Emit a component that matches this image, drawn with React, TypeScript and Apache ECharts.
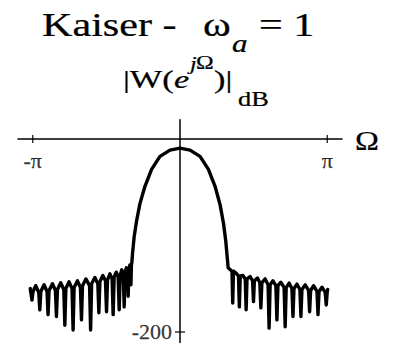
import { useEffect, useRef } from "react";
import * as echarts from "echarts";

// Frequency axis is in units of π; magnitude in dB.
const xTickValues = [-1, 1];
const xTickLabels = ["-π", "π"];
const yTickValues = [-200];
const yTickLabels = ["-200"];

// Side-lobe comb left of the main lobe: [Ω/π, dB]
const leftSidelobes: [number, number][] = [
  [-1.017, -155], [-1.005, -167], [-0.998, -158],
  [-0.98, -152],
  [-0.959, -159], [-0.952, -177], [-0.945, -158],
  [-0.923, -151],
  [-0.903, -158], [-0.896, -182], [-0.889, -157],
  [-0.866, -150],
  [-0.846, -157], [-0.839, -184], [-0.832, -156],
  [-0.81, -149],
  [-0.789, -156], [-0.782, -193], [-0.775, -155],
  [-0.753, -148],
  [-0.733, -155], [-0.726, -198], [-0.719, -154],
  [-0.696, -147],
  [-0.676, -154], [-0.669, -187.5], [-0.662, -152],
  [-0.639, -145],
  [-0.614, -152], [-0.607, -198], [-0.6, -150],
  [-0.578, -143.5],
  [-0.558, -150], [-0.551, -180], [-0.544, -148],
  [-0.524, -141.5],
  [-0.506, -147], [-0.499, -179], [-0.492, -146],
  [-0.476, -139.7],
  [-0.461, -145], [-0.454, -182], [-0.447, -143],
  [-0.433, -138],
  [-0.42, -143], [-0.413, -177], [-0.406, -141],
  [-0.395, -135.6],
  [-0.385, -140], [-0.379, -174], [-0.373, -138],
  [-0.364, -133.5],
  [-0.357, -137], [-0.352, -163], [-0.347, -134],
  [-0.34, -130.5],
  [-0.336, -133], [-0.333, -151], [-0.33, -131],
];

// Main lobe: [Ω/π, dB]
const mainLobe: [number, number][] = [
  [-0.327, -128], [-0.322, -118], [-0.311, -101], [-0.295, -85],
  [-0.272, -67], [-0.238, -49], [-0.193, -31.5], [-0.136, -18],
  [-0.068, -11.5], [0, -9.5],
  [0.068, -11.5], [0.136, -18], [0.193, -31.5], [0.238, -49],
  [0.272, -68], [0.295, -87], [0.311, -106], [0.322, -125],
];

// Side-lobe comb right of the main lobe: [Ω/π, dB]
const rightSidelobes: [number, number][] = [
  [0.327, -133.5],
  [0.353, -137], [0.358, -170], [0.363, -137],
  [0.381, -139],
  [0.397, -142], [0.403, -174], [0.409, -142],
  [0.427, -141.5],
  [0.443, -145], [0.449, -177], [0.455, -145],
  [0.476, -142.5],
  [0.493, -147], [0.499, -168.5], [0.505, -147],
  [0.526, -144],
  [0.542, -149], [0.549, -175], [0.556, -149],
  [0.578, -145],
  [0.598, -151], [0.605, -196], [0.612, -151],
  [0.631, -147],
  [0.651, -152], [0.658, -187.5], [0.665, -152],
  [0.685, -148.4],
  [0.707, -154], [0.714, -194.5], [0.721, -154],
  [0.741, -149.4],
  [0.76, -155], [0.767, -184], [0.774, -155],
  [0.794, -150.4],
  [0.814, -156], [0.821, -184], [0.828, -156],
  [0.85, -151.2],
  [0.873, -157], [0.88, -179], [0.887, -157],
  [0.907, -152],
  [0.93, -158], [0.937, -182], [0.944, -158],
  [0.964, -153.6],
  [0.986, -159], [0.993, -172], [1.0, -158],
  [1.003, -156],
];

const SERIF = "Liberation Serif";

export default function App() {
  const ref = useRef<HTMLDivElement>(null);

  useEffect(() => {
    if (!ref.current) return;
    const chart = echarts.init(ref.current, undefined, { renderer: "svg" });

    const txt = (
      text: string,
      x: number,
      y: number,
      size: number,
      sx: number,
      italic = false
    ) => ({
      type: "text",
      x,
      y,
      scaleX: sx,
      silent: true,
      style: {
        text,
        fill: "#000",
        stroke: "#000",
        lineWidth: 0.25,
        fontSize: size,
        fontFamily: SERIF,
        fontStyle: italic ? "italic" : "normal",
        align: "left",
        verticalAlign: "middle",
      },
    });

    const tickLabel = {
      color: "#000",
      fontFamily: SERIF,
      fontSize: 22,
      textBorderColor: "#000",
      textBorderWidth: 0.25,
    };

    chart.setOption({
      animation: false,
      backgroundColor: "#fff",
      grid: {
        left: 18,
        right: 55,
        top: 119.7,
        bottom: 3.4,
        containLabel: false,
        outerBoundsMode: "none",
      },
      xAxis: {
        type: "value",
        min: -1.1,
        max: 1.1,
        axisLine: { show: true, onZero: true, lineStyle: { color: "#000", width: 1.5 } },
        axisTick: { show: false },
        splitLine: { show: false },
        axisLabel: { show: false },
      },
      yAxis: {
        type: "value",
        min: -211,
        max: 20,
        axisLine: { show: true, onZero: true, lineStyle: { color: "#000", width: 1.5 } },
        axisTick: { show: false },
        splitLine: { show: false },
        axisLabel: { show: false },
      },
      series: [
        {
          type: "line",
          data: [...leftSidelobes, ...mainLobe, ...rightSidelobes],
          showSymbol: false,
          smooth: false,
          lineStyle: { color: "#000", width: 3.4, join: "round", cap: "round" },
          z: 3,
        },
        {
          // crossing tick marks and labels on the frequency axis
          type: "scatter",
          data: xTickValues.map((v) => [v, 0]),
          symbol: "rect",
          symbolSize: [1.5, 8],
          itemStyle: { color: "#000" },
          label: {
            show: true,
            position: "bottom",
            distance: 7,
            formatter: (p: any) => xTickLabels[p.dataIndex],
            ...tickLabel,
          },
          silent: true,
        },
        {
          // crossing tick mark and label on the magnitude axis
          type: "scatter",
          data: yTickValues.map((v) => [0, v]),
          symbol: "rect",
          symbolSize: [10, 1.5],
          itemStyle: { color: "#000" },
          label: {
            show: true,
            position: "left",
            distance: 3,
            formatter: (p: any) => yTickLabels[p.dataIndex],
            ...tickLabel,
          },
          silent: true,
        },
      ],
      graphic: [
        txt("Kaiser -", 42, 24, 34, 1.24),
        txt("ω", 203, 24, 34, 1.24),
        txt("a", 232, 44, 25, 1.24, true),
        txt("= 1", 259, 24, 34, 1.24),
        txt("|W(", 123, 79, 26, 1.32),
        txt("e", 174, 79, 26, 1.32, true),
        txt("j", 190, 64, 18, 1.32, true),
        txt("Ω", 196, 63, 18, 1.32),
        txt(")|", 214, 79, 26, 1.32),
        txt("dB", 238, 99, 20, 1.32),
        txt("Ω", 355, 141, 28, 1.15),
      ],
    });

    return () => chart.dispose();
  }, []);

  return (
    <div
      ref={ref}
      style={{ position: "fixed", left: 0, top: 0, width: 397, height: 346, background: "#fff" }}
    />
  );
}
